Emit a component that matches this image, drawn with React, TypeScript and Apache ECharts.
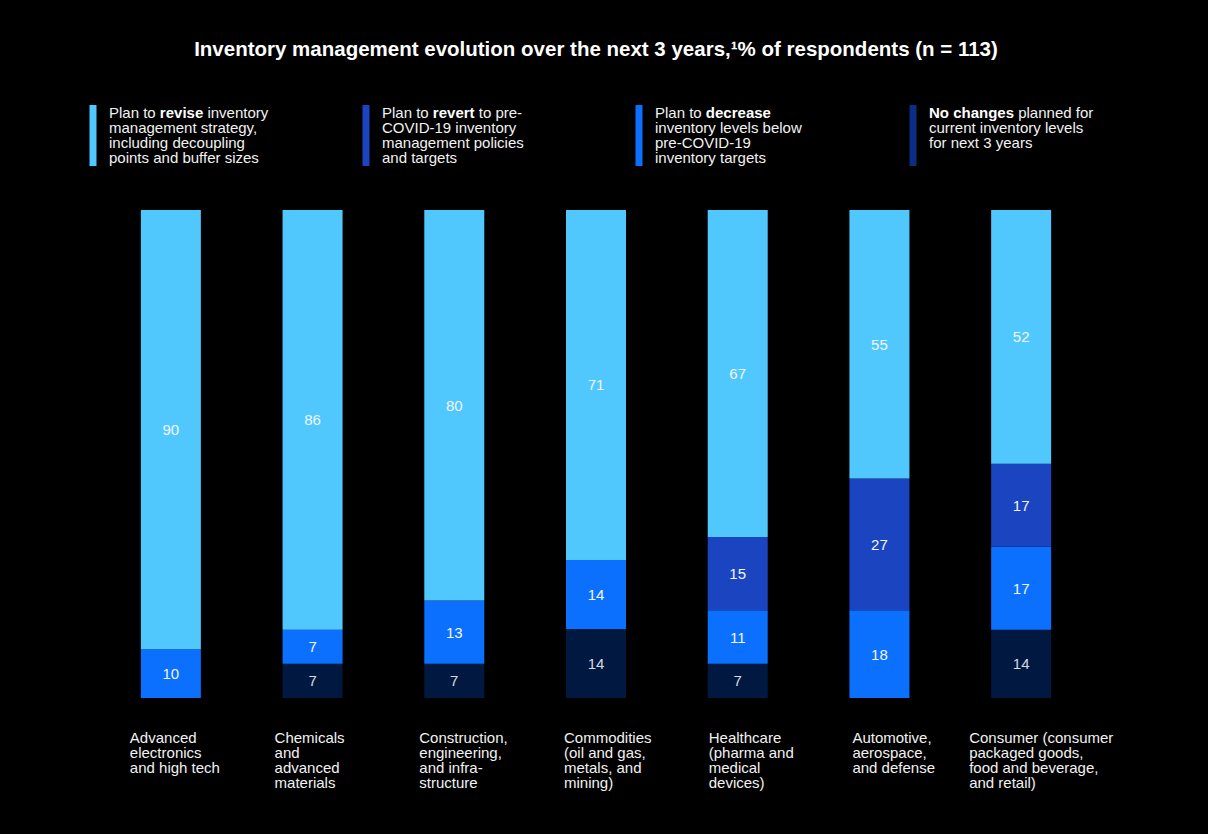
import React, { useEffect, useRef } from "react";
import * as echarts from "echarts";

const categories = [
  "Advanced\nelectronics\nand high tech",
  "Chemicals\nand\nadvanced\nmaterials",
  "Construction,\nengineering,\nand infra-\nstructure",
  "Commodities\n(oil and gas,\nmetals, and\nmining)",
  "Healthcare\n(pharma and\nmedical\ndevices)",
  "Automotive,\naerospace,\nand defense",
  "Consumer (consumer\npackaged goods,\nfood and beverage,\nand retail)",
];

const revise = [90, 86, 80, 71, 67, 55, 52];
const revert = [0, 0, 0, 0, 15, 27, 17];
const decrease = [10, 7, 13, 14, 11, 18, 17];
const noChanges = [0, 7, 7, 14, 7, 0, 14];

const legendTexts = [
  "Plan to {b|revise} inventory\nmanagement strategy,\nincluding decoupling\npoints and buffer sizes",
  "Plan to {b|revert} to pre-\nCOVID-19 inventory\nmanagement policies\nand targets",
  "Plan to {b|decrease}\ninventory levels below\npre-COVID-19\ninventory targets",
  "{b|No changes} planned for\ncurrent inventory levels\nfor next 3 years",
];

const titleText =
  "Inventory management evolution over the next 3 years,¹% of respondents (n = 113)";

// styles / layout
const COLORS = {
  revise: "#50c8fe",
  revert: "#1a44c0",
  decrease: "#0a70fd",
  noChanges: "#011841",
};
const LEGEND_MARK_COLORS = ["#50c8fe", "#1a44c0", "#0a70fd", "#0c2d84"];
const FONT = "'Liberation Sans', Arial, sans-serif";
const GRID = { left: 100, right: 116, top: 210, bottom: 136 };
const W = 1208;
const H = 834;
const labelShift = [-41, -38, -35, -32, -29, -27, -52];
const legendX = [90, 363, 636, 910];

export default function App() {
  const ref = useRef<HTMLDivElement>(null);

  useEffect(() => {
    document.body.style.margin = "0";
    document.body.style.background = "#000";
    if (!ref.current) return;
    const chart = echarts.init(ref.current, undefined, { renderer: "svg" });

    const totals = categories.map(
      (_, i) => revise[i] + revert[i] + decrease[i] + noChanges[i]
    );
    const norm = (arr: number[]) => arr.map((v, i) => (v / totals[i]) * 100);

    const mk = (
      name: string,
      arr: number[],
      color: string,
      labelColor: string
    ) => ({
      name,
      type: "bar",
      stack: "total",
      barWidth: 60,
      data: norm(arr),
      itemStyle: { color },
      label: {
        show: true,
        position: "inside",
        color: labelColor,
        fontFamily: FONT,
        fontSize: 15,
        formatter: (p: any) => (arr[p.dataIndex] ? String(arr[p.dataIndex]) : ""),
      },
    });

    const band = (W - GRID.left - GRID.right) / categories.length;

    const graphics: any[] = [];
    categories.forEach((c, i) => {
      graphics.push({
        type: "text",
        x: GRID.left + (i + 0.5) * band + labelShift[i],
        y: 730,
        style: {
          text: c,
          fill: "#f2f2f2",
          fontSize: 15,
          fontFamily: FONT,
          lineHeight: 15,
          verticalAlign: "top",
          align: "left",
        },
      });
    });
    legendTexts.forEach((t, i) => {
      graphics.push({
        type: "rect",
        shape: { x: legendX[i] - 0.5, y: 105, width: 7, height: 61 },
        style: { fill: LEGEND_MARK_COLORS[i] },
      });
      graphics.push({
        type: "text",
        x: legendX[i] + 19,
        y: 105,
        style: {
          text: t,
          fill: "#f2f2f2",
          fontSize: 15,
          fontFamily: FONT,
          lineHeight: 15,
          verticalAlign: "top",
          align: "left",
          rich: {
            b: {
              fontWeight: "bold",
              fontSize: 15,
              fontFamily: FONT,
              lineHeight: 15,
              fill: "#ffffff",
            },
          },
        },
      });
    });
    graphics.push({
      type: "text",
      x: 596,
      y: 48,
      style: {
        text: titleText,
        fill: "#ffffff",
        fontSize: 20.5,
        fontWeight: "bold",
        fontFamily: FONT,
        align: "center",
        verticalAlign: "middle",
      },
    });

    chart.setOption({
      animation: false,
      backgroundColor: "#000000",
      grid: GRID,
      xAxis: {
        type: "category",
        data: categories,
        axisLine: { show: false },
        axisTick: { show: false },
        axisLabel: { show: false },
      },
      yAxis: {
        type: "value",
        min: 0,
        max: 100,
        show: false,
        splitLine: { show: false },
      },
      series: [
        mk("No changes", noChanges, COLORS.noChanges, "#d6dae2"),
        mk("Decrease", decrease, COLORS.decrease, "#f2f6ff"),
        mk("Revert", revert, COLORS.revert, "#f2f6ff"),
        mk("Revise", revise, COLORS.revise, "#f2f6ff"),
      ],
      graphic: graphics,
    });

    return () => chart.dispose();
  }, []);

  return <div ref={ref} style={{ width: W, height: H }} />;
}
